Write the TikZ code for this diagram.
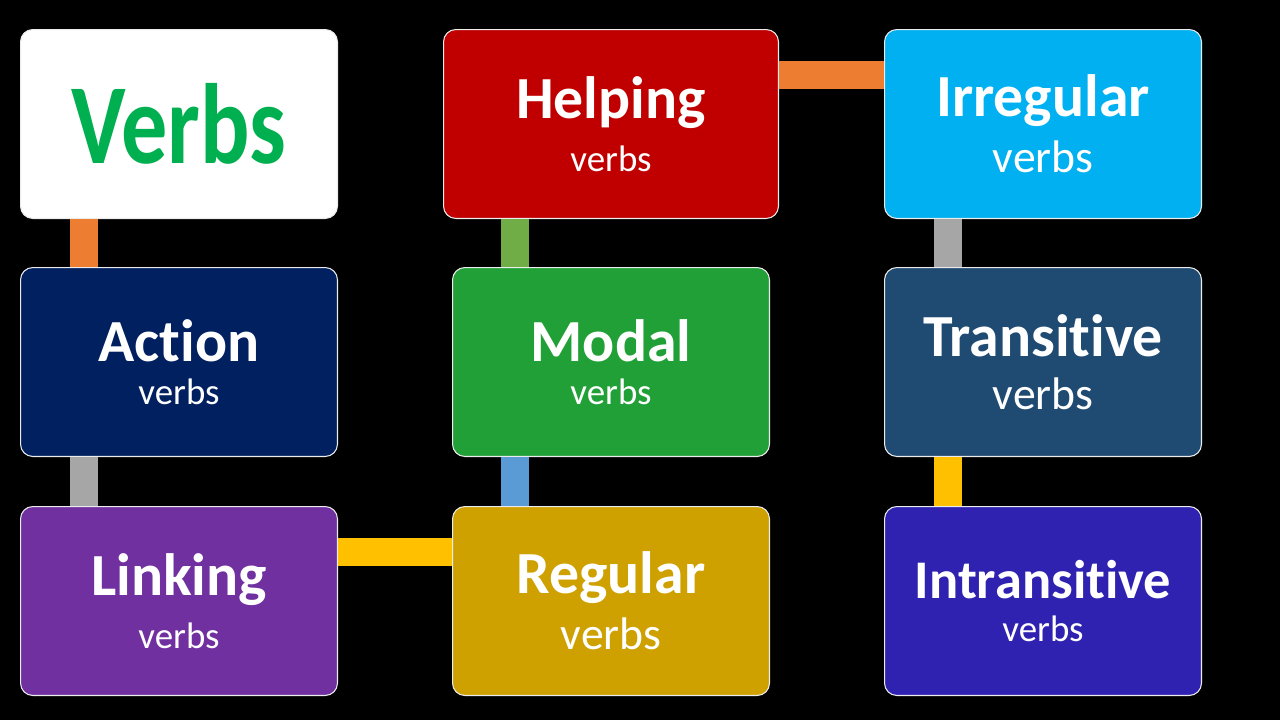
\documentclass[tikz,border=0pt]{standalone}
\usepackage{fontspec}
\setmainfont{Carlito}[Ligatures=NoCommon]
\begin{document}
\begin{tikzpicture}[x=0.02cm,y=-0.02cm,
  box/.style={draw=white!85!gray,line width=0.6pt,rounded corners=7pt,minimum width=318*0.02cm-0.6pt,minimum height=190*0.02cm-0.6pt,align=center,text=white,inner sep=0pt},
  conn/.style={line width=16pt}]
\fill[black] (0,0) rectangle (1280,720);
\useasboundingbox (0,0) rectangle (1280,720);
\definecolor{cOr}{HTML}{ED7D31}\definecolor{cGr}{HTML}{A6A6A6}
\definecolor{cGn}{HTML}{70AD47}\definecolor{cBl}{HTML}{5B9BD5}\definecolor{cYe}{HTML}{FFC000}
\newcommand\ttl[1]{{\fontsize{34}{38}\selectfont\bfseries #1}}
\newcommand\sv{{\fontsize{21}{25}\selectfont verbs}}
\newcommand\lv{{\fontsize{26}{30}\selectfont verbs}}
\node[box,fill=white] (verbs) at (179,124) {\fontsize{50}{56}\selectfont\bfseries\color[HTML]{00B050}\scalebox{1.05}[1.3]{Verbs}};
\node[box,fill={rgb,255:red,0;green,32;blue,96}] (action) at (179,362) {\ttl{Action}\\[9pt]\sv};
\node[box,fill={rgb,255:red,112;green,48;blue,160}] (linking) at (179,601) {\ttl{Linking}\\[9pt]\sv};
\node[box,fill={rgb,255:red,192;green,0;blue,0},minimum width=336*0.02cm-0.6pt] (helping) at (611,124) {\ttl{Helping}\\[9pt]\sv};
\node[box,fill={rgb,255:red,34;green,160;blue,56}] (modal) at (611,362) {\ttl{Modal}\\[9pt]\sv};
\node[box,fill={rgb,255:red,206;green,160;blue,0}] (regular) at (611,601) {\ttl{Regular}\\[7pt]\lv};
\node[box,fill={rgb,255:red,0;green,176;blue,240}] (irregular) at (1043,124) {\ttl{Irregular}\\[7pt]\lv};
\node[box,fill={rgb,255:red,31;green,75;blue,115}] (transitive) at (1043,362) {\ttl{Transitive}\\[11pt]\lv};
\node[box,fill={rgb,255:red,48;green,34;blue,176}] (intrans) at (1043,601) {{\fontsize{31}{35}\selectfont\bfseries Intransitive}\\[9pt]\sv};
\draw[conn,cOr] ([xshift=64*0.02cm]verbs.south west) -- ([xshift=64*0.02cm]action.north west);
\draw[conn,cGr] ([xshift=64*0.02cm]action.south west) -- ([xshift=64*0.02cm]linking.north west);
\draw[conn,cGn] ([xshift=63*0.02cm]modal.north west) -- ([xshift=63*0.02cm]modal.north west |- helping.south);
\draw[conn,cBl] ([xshift=63*0.02cm]modal.south west) -- ([xshift=63*0.02cm]regular.north west);
\draw[conn,cYe] ([yshift=-46*0.02cm]linking.north east) -- ([yshift=-46*0.02cm]regular.north west);
\draw[conn,cOr] ([yshift=-46*0.02cm]helping.north east) -- ([yshift=-46*0.02cm]irregular.north west);
\draw[conn,cGr] ([xshift=64*0.02cm]irregular.south west) -- ([xshift=64*0.02cm]transitive.north west);
\draw[conn,cYe] ([xshift=64*0.02cm]transitive.south west) -- ([xshift=64*0.02cm]intrans.north west);
\end{tikzpicture}
\end{document}
